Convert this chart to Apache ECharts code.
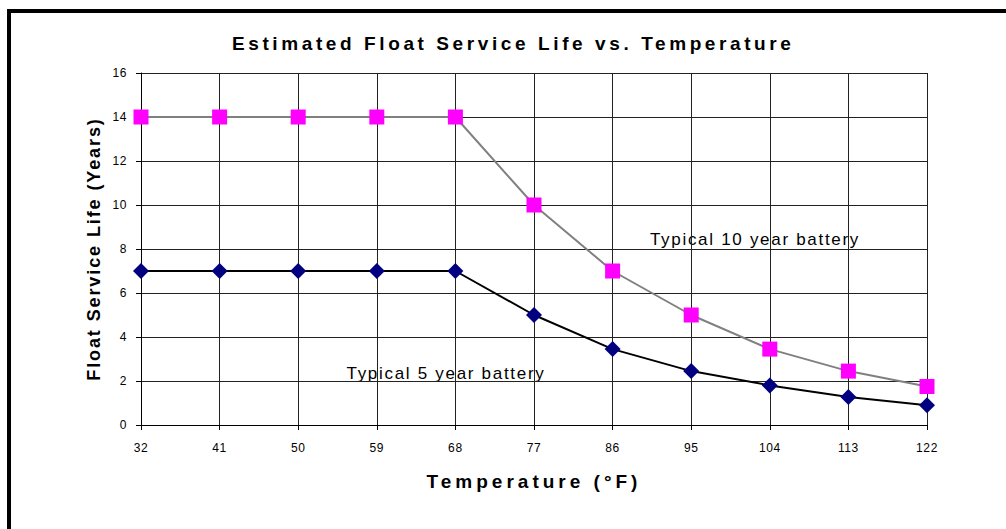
<!DOCTYPE html>
<html>
<head>
<meta charset="utf-8">
<script src="https://cdn.jsdelivr.net/npm/echarts@6/dist/echarts.min.js"></script>
<style>
  html, body { margin: 0; padding: 0; background: #fff; }
  #chart { width: 1006px; height: 529px; }
</style>
</head>
<body>
<div id="chart"></div>
<script>
// temperature (°F)
var temps = ['32', '41', '50', '59', '68', '77', '86', '95', '104', '113', '122'];
// float service life (years)
var life10 = [14, 14, 14, 14, 14, 10, 7, 5, 3.45, 2.45, 1.75];
var life5 = [7, 7, 7, 7, 7, 5, 3.45, 2.45, 1.8, 1.27, 0.9];

var titleText = 'Estimated Float Service Life vs. Temperature';
var xName = 'Temperature (°F)';
var yName = 'Float Service Life (Years)';
var note10 = 'Typical 10 year battery';
var note5 = 'Typical 5 year battery';

var chart = echarts.init(document.getElementById('chart'), null, { renderer: 'svg' });
var font = 'Liberation Sans, Arial, sans-serif';

var option = {
    animation: false,
    backgroundColor: '#fff',
    title: {
        text: titleText,
        left: 227,
        top: 29,
        textStyle: { fontFamily: font, fontSize: 19, fontWeight: 'bold', color: '#000' }
    },
    grid: { left: 141, right: 79, top: 73, bottom: 104 },
    xAxis: {
        type: 'category',
        data: temps,
        boundaryGap: false,
        name: xName,
        nameLocation: 'middle',
        nameGap: 47,
        nameTextStyle: { fontFamily: font, fontSize: 19, fontWeight: 'bold', color: '#000' },
        axisLine: { lineStyle: { color: '#000', width: 1 } },
        axisTick: { show: true, length: 5, lineStyle: { color: '#000' } },
        axisLabel: { fontFamily: font, fontSize: 12, color: '#000', margin: 17 },
        splitLine: { show: true, lineStyle: { color: '#222', width: 1 } }
    },
    yAxis: {
        type: 'value',
        min: 0,
        max: 16,
        interval: 2,
        name: yName,
        nameLocation: 'middle',
        nameGap: 37,
        nameTextStyle: { fontFamily: font, fontSize: 18, fontWeight: 'bold', color: '#000' },
        axisLine: { show: true, lineStyle: { color: '#000', width: 1 } },
        axisTick: { show: true, length: 5, lineStyle: { color: '#000' } },
        axisLabel: { fontFamily: font, fontSize: 12, color: '#000', margin: 14 },
        splitLine: { show: true, lineStyle: { color: '#222', width: 1 } }
    },
    series: [
        {
            name: note10,
            type: 'line',
            data: life10,
            symbol: 'rect',
            symbolSize: 15,
            itemStyle: { color: '#ff00ff' },
            lineStyle: { color: '#808080', width: 2 },
            z: 3
        },
        {
            name: note5,
            type: 'line',
            data: life5,
            symbol: 'diamond',
            symbolSize: [16, 16],
            itemStyle: { color: '#000080' },
            lineStyle: { color: '#000', width: 2 },
            z: 3
        }
    ],
    graphic: [
        {
            type: 'rect',
            shape: { x: 9, y: 11, width: 1200, height: 700 },
            style: { fill: null, stroke: '#000', lineWidth: 4 },
            z: 10
        },
        {
            type: 'group',
            left: 627, top: 217,
            z: 5,
            children: [
                { type: 'rect', shape: { width: 256, height: 44 }, style: { fill: '#fff' } },
                { type: 'text', x: 128, y: 22, style: { text: note10, fontFamily: font, fontSize: 17, fill: '#000', align: 'center', verticalAlign: 'middle' } }
            ]
        },
        {
            type: 'group',
            left: 331, top: 350,
            z: 5,
            children: [
                { type: 'rect', shape: { width: 231, height: 46 }, style: { fill: '#fff' } },
                { type: 'text', x: 115, y: 23, style: { text: note5, fontFamily: font, fontSize: 17, fill: '#000', align: 'center', verticalAlign: 'middle' } }
            ]
        }
    ]
};

chart.setOption(option);

// the old chart spreads its letters out, so widen the svg text a bit
function spreadText() {
    var spacing = {};
    spacing[titleText] = '3.6px';
    spacing[xName] = '4px';
    spacing[yName] = '1.9px';
    spacing[note10] = '1.7px';
    spacing[note5] = '1.7px';
    var texts = document.querySelectorAll('#chart svg text');
    for (var i = 0; i < texts.length; i++) {
        var t = texts[i].textContent;
        texts[i].style.letterSpacing = spacing[t] || '0.6px';
    }
}
chart.getZr().flush();
spreadText();
chart.on('finished', spreadText);
</script>
</body>
</html>
